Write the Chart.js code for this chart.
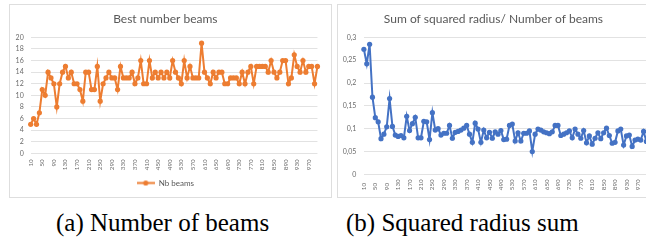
<!DOCTYPE html>
<html>
<head>
<meta charset="utf-8">
<script src="https://cdn.jsdelivr.net/npm/chart.js@4.4.1/dist/chart.umd.min.js"></script>
<style>
  body { margin: 0; width: 646px; height: 246px; overflow: hidden; background: #fff; position: relative; }
  .quadro { position: absolute; top: 4px; width: 323px; height: 194px; box-sizing: border-box; border: 1px solid #dedede; background: #fff; }
  #qa { left: 9px; }
  #qb { left: 337px; }
  canvas { display: block; }
  .legenda { position: absolute; top: 210px; font-family: 'Liberation Serif', 'Times New Roman', serif; font-size: 25px; line-height: 25px; color: #000; white-space: nowrap; }
</style>
</head>
<body>
<div class="quadro" id="qa"><canvas id="beams" width="321" height="192"></canvas></div>
<div class="quadro" id="qb"><canvas id="radius" width="321" height="192"></canvas></div>
<div class="legenda" style="left:56px">(a) Number of beams</div>
<div class="legenda" style="left:346px">(b) Squared radius sum</div>

<script>
// categorias do eixo x
var categorias = [10, 20, 30, 40, 50, 60, 70, 80, 90, 100,
    110, 120, 130, 140, 150, 160, 170, 180, 190, 200,
    210, 220, 230, 240, 250, 260, 270, 280, 290, 300,
    310, 320, 330, 340, 350, 360, 370, 380, 390, 400,
    410, 420, 430, 440, 450, 460, 470, 480, 490, 500,
    510, 520, 530, 540, 550, 560, 570, 580, 590, 600,
    610, 620, 630, 640, 650, 660, 670, 680, 690, 700,
    710, 720, 730, 740, 750, 760, 770, 780, 790, 800,
    810, 820, 830, 840, 850, 860, 870, 880, 890, 900,
    910, 920, 930, 940, 950, 960, 970, 980, 990, 1000];

// rotulos que aparecem no eixo x
var rotulosX = ['10', '50', '90', '130', '170', '210', '250', '290', '330', '370',
    '410', '450', '490', '530', '570', '610', '650', '690', '730', '770',
    '810', '850', '890', '930', '970'];

// serie (a) Nb beams
var nbBeams = [5, 6, 5, 7, 11, 10, 14, 13, 12, 8,
    12, 14, 15, 13, 14, 12, 12, 11, 9, 14,
    14, 11, 11, 15, 9, 12, 13, 14, 13, 13,
    11, 15, 13, 13, 13, 14, 12, 13, 16, 12,
    12, 16, 13, 14, 13, 14, 13, 14, 13, 16,
    14, 13, 12, 16, 13, 15, 13, 13, 13, 19,
    14, 13, 12, 14, 13, 14, 14, 12, 12, 13,
    13, 13, 12, 14, 12, 14, 15, 12, 15, 15,
    15, 15, 14, 16, 14, 13, 14, 16, 16, 12,
    13, 17, 15, 14, 16, 14, 15, 15, 12, 15];

// serie (b) sum of squared radius / number of beams
var raioQuadrado = [0.274, 0.242, 0.285, 0.169, 0.124, 0.115, 0.078, 0.088, 0.104, 0.166,
    0.105, 0.086, 0.083, 0.085, 0.080, 0.127, 0.096, 0.111, 0.125, 0.080,
    0.080, 0.116, 0.115, 0.076, 0.135, 0.097, 0.100, 0.086, 0.090, 0.090,
    0.107, 0.079, 0.092, 0.094, 0.097, 0.101, 0.107, 0.088, 0.070, 0.112,
    0.099, 0.070, 0.097, 0.080, 0.092, 0.079, 0.093, 0.088, 0.096, 0.076,
    0.077, 0.107, 0.110, 0.073, 0.091, 0.073, 0.090, 0.090, 0.095, 0.050,
    0.088, 0.099, 0.097, 0.093, 0.091, 0.089, 0.093, 0.107, 0.107, 0.085,
    0.088, 0.091, 0.095, 0.080, 0.099, 0.088, 0.079, 0.096, 0.069, 0.084,
    0.066, 0.079, 0.091, 0.078, 0.091, 0.101, 0.085, 0.068, 0.070, 0.095,
    0.099, 0.064, 0.084, 0.086, 0.061, 0.075, 0.077, 0.075, 0.094, 0.072];

var laranja = '#ED7D31';
var azul = '#4472C4';
var cinzaTexto = '#6b6b6b';
var cinzaGrade = '#e2e2e2';
var fonte = 'Lato, "Open Sans", sans-serif';

// marcador da legenda: linha com bolinha (estilo excel)
var marcador = document.createElement('canvas');
marcador.width = 18;
marcador.height = 7;
var m = marcador.getContext('2d');
m.strokeStyle = laranja;
m.lineWidth = 2;
m.beginPath();
m.moveTo(0, 3.5);
m.lineTo(18, 3.5);
m.stroke();
m.fillStyle = laranja;
m.beginPath();
m.arc(9, 3.5, 2.6, 0, Math.PI * 2);
m.fill();

function tituloOpc(texto) {
    return {
        display: true,
        text: texto,
        color: '#595959',
        font: { family: fonte, size: 12, weight: 'normal' },
        padding: { top: 7, bottom: 11 }
    };
}

function eixoX(altura, padding, preencher) {
    return {
        grid: { display: false, drawTicks: false },
        border: { display: false },
        ticks: {
            autoSkip: false,
            minRotation: 90,
            maxRotation: 90,
            padding: padding,
            color: cinzaTexto,
            font: { family: fonte, size: 6.3 },
            callback: function (value, index) {
                var r = String(categorias[index]);
                if (rotulosX.indexOf(r) < 0) return '';
                if (preencher && r.length < 3) r = r + '\u2007';
                return r;
            }
        },
        afterFit: function (scale) { scale.height = altura; }
    };
}

// grafico (a)
new Chart(document.getElementById('beams').getContext('2d'), {
    type: 'line',
    data: {
        labels: categorias,
        datasets: [{
            label: 'Nb beams',
            data: nbBeams,
            borderColor: laranja,
            backgroundColor: laranja,
            borderWidth: 2,
            pointRadius: 2.6,
            pointBorderWidth: 0,
            pointBackgroundColor: laranja,
            tension: 0
        }]
    },
    options: {
        responsive: false,
        animation: false,
        layout: { padding: { left: 0, right: 10.3, top: 0, bottom: 0 } },
        plugins: {
            title: tituloOpc('Best number beams'),
            legend: {
                position: 'bottom',
                labels: {
                    usePointStyle: true,
                    pointStyle: marcador,
                    pointStyleWidth: 18,
                    padding: 4,
                    color: '#595959',
                    font: { family: fonte, size: 8 }
                }
            },
            tooltip: { enabled: false }
        },
        scales: {
            x: eixoX(21.7, 6, false),
            y: {
                min: 0,
                max: 20,
                grid: { color: cinzaGrade, drawTicks: false },
                border: { display: false },
                ticks: { stepSize: 2, padding: 7, color: cinzaTexto, font: { family: fonte, size: 7 } },
                afterFit: function (scale) { scale.width = 20.7; }
            }
        }
    }
});

// grafico (b)
new Chart(document.getElementById('radius').getContext('2d'), {
    type: 'line',
    data: {
        labels: categorias,
        datasets: [{
            label: 'Sum of squared radius/ Number of beams',
            data: raioQuadrado,
            borderColor: azul,
            backgroundColor: azul,
            borderWidth: 2,
            pointRadius: 2.6,
            pointBorderWidth: 0,
            pointBackgroundColor: azul,
            tension: 0
        }]
    },
    options: {
        responsive: false,
        animation: false,
        layout: { padding: { left: 0, right: 10.1, top: 0, bottom: 0 } },
        plugins: {
            title: tituloOpc('Sum of squared radius/ Number of beams'),
            legend: { display: false },
            tooltip: { enabled: false }
        },
        scales: {
            x: eixoX(22.7, 5, true),
            y: {
                min: 0,
                max: 0.3,
                grid: { color: cinzaGrade, drawTicks: false },
                border: { display: false },
                ticks: {
                    stepSize: 0.05,
                    padding: 7.5,
                    color: cinzaTexto,
                    font: { family: fonte, size: 7 },
                    callback: function (v) { return String(+v.toFixed(2)).replace('.', ','); }
                },
                afterFit: function (scale) { scale.width = 25.9; }
            }
        }
    }
});
</script>
</body>
</html>
